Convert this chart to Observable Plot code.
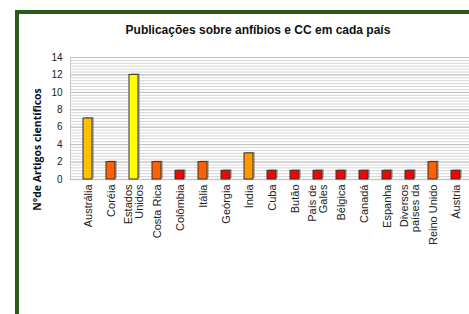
<!DOCTYPE html>
<html>
<head>
<meta charset="utf-8">
<script src="https://cdn.jsdelivr.net/npm/d3@7"></script>
<script src="https://cdn.jsdelivr.net/npm/@observablehq/plot@0.6"></script>
<style>
  html, body { margin: 0; padding: 0; background: #fff; overflow: hidden; width: 469px; height: 314px; }
  #frame { position: absolute; left: 15px; top: 10px; width: 520px; height: 400px;
           border-left: 4px solid #2b5a1b; border-top: 4px solid #2b5a1b; box-sizing: border-box; }
  #title { position: absolute; left: 0; width: 516px; top: 23px; text-align: center;
           font: bold 12px "Liberation Sans", Arial, sans-serif; color: #111; }
  #chart { position: absolute; left: 0; top: 0; }
  #chart svg { max-width: none !important; }
</style>
</head>
<body>
<div id="frame"></div>
<div id="title">Publicações sobre anfíbios e CC em cada país</div>
<div id="chart"></div>
<script>
const countries = ["Austrália", "Coréia", "Estados\nUnidos", "Costa Rica", "Colômbia", "Itália", "Geórgia", "Índia", "Cuba", "Butão", "País de\nGales", "Bélgica", "Canadá", "Espanha", "Diversos\npaíses da", "Reino Unido", "Áustria"];
const articles = [7, 2, 12, 2, 1, 2, 1, 3, 1, 1, 1, 1, 1, 1, 1, 2, 1];
const barColors = ["#FFC000", "#FF6000", "#FFFF00", "#FF6000", "#FF0000", "#FF6000", "#FF0000", "#FF9900", "#FF0000", "#FF0000", "#FF0000", "#FF0000", "#FF0000", "#FF0000", "#FF0000", "#FF6000", "#FF0000"];
const yTicks = [0, 2, 4, 6, 8, 10, 12, 14];
const yLabel = "N°de Artigos científicos";

const data = countries.map((c, i) => ({country: c, value: articles[i], color: barColors[i]}));
const minorGrid = d3.range(0, 14.001, 1/3);

const chart = Plot.plot({
  width: 480,
  height: 314,
  marginLeft: 70,
  marginRight: 7,
  marginTop: 57,
  marginBottom: 135,
  style: {fontFamily: "'Liberation Sans', Arial, sans-serif", background: "transparent", color: "#222"},
  x: {domain: countries, paddingInner: 0.6, paddingOuter: 0.3, label: null},
  y: {domain: [0, 14], label: null},
  marks: [
    Plot.ruleY(minorGrid, {stroke: "#d6d6d6", strokeWidth: 1}),
    Plot.ruleY(yTicks, {stroke: "#c0c0c0", strokeWidth: 1}),
    Plot.frame({anchor: "left", stroke: "#c8c8c8"}),
    Plot.ruleY([0], {stroke: "#c8c8c8", strokeWidth: 1.5}),
    Plot.barY(data, {x: "country", y: "value", fill: "#8a8a8a", fillOpacity: 0.6, dx: 2, dy: -1}),
    Plot.barY(data, {x: "country", y: "value", fill: "color", stroke: "#333", strokeWidth: 1}),
    Plot.axisY({ticks: yTicks, tickSize: 0, tickPadding: 8, fontSize: 10, label: null}),
    Plot.axisX({tickSize: 0, tickPadding: 5, tickRotate: -90, fontSize: 11, label: null, lineHeight: 1.05}),
    Plot.text([yLabel], {frameAnchor: "left", textAnchor: "middle", dx: -33, dy: 31, rotate: -90, fontWeight: "bold", fontSize: 10.5, fill: "#111", fontFamily: "'Open Sans', sans-serif"})
  ]
});
document.getElementById("chart").appendChild(chart);
</script>
</body>
</html>
